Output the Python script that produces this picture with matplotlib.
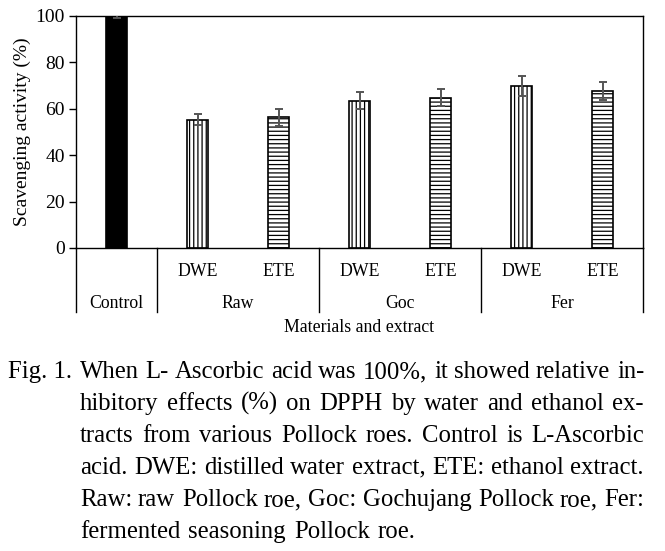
import numpy as np
import matplotlib
matplotlib.use("Agg")
import matplotlib.pyplot as plt
import matplotlib.transforms as mtransforms

plt.rcParams['font.family'] = ['Liberation Serif', 'DejaVu Serif']
plt.rcParams['hatch.linewidth'] = 0.9

# data
extracts = ['', 'DWE', 'ETE', 'DWE', 'ETE', 'DWE', 'ETE']
materials = ['Control', 'Raw', 'Goc', 'Fer']
valores = [100.0, 55.3, 56.3, 63.5, 64.8, 69.8, 67.5]
errores = [0.8, 2.3, 3.8, 3.6, 3.6, 4.3, 3.9]
hatches = [None, '||||', '----', '||||', '----', '||||', '----']
colores = ['black', 'white', 'white', 'white', 'white', 'white', 'white']

caption_tag = 'Fig. 1.'
caption_lines = [
    'When L- Ascorbic acid was 100%, it showed relative in-',
    'hibitory effects (%) on DPPH by water and ethanol ex-',
    'tracts from various Pollock roes. Control is L-Ascorbic',
    'acid. DWE: distilled water extract, ETE: ethanol extract.',
    'Raw: raw Pollock roe, Goc: Gochujang Pollock roe, Fer:',
    'fermented seasoning Pollock roe.',
]

W, H = 665, 551
fig = plt.figure(figsize=(W / 100, H / 100), dpi=100)
ax = fig.add_axes([76 / W, 1 - 248 / H, (643 - 76) / W, (248 - 16) / H])

x = np.arange(len(valores))
for i in range(len(valores)):
    ax.bar(x[i], valores[i], width=0.26, color=colores[i], edgecolor='black',
           linewidth=1.2, hatch=hatches[i], zorder=2)
ax.errorbar(x, valores, yerr=errores, fmt='none', ecolor='#555555',
            elinewidth=1.4, capsize=3, capthick=1.4, zorder=3)

ax.set_xlim(-0.5, 6.5)
ax.set_ylim(0, 100)
ax.set_yticks(np.arange(0, 101, 20))
ax.tick_params(axis='y', direction='out', length=5, width=1, labelsize=14, pad=3)
ax.set_xticks([])
for s in ax.spines.values():
    s.set_linewidth(1)
ax.set_ylabel('Scavenging activity (%)', fontsize=14, labelpad=3)

# category table below the axis
trans = mtransforms.blended_transform_factory(ax.transData, ax.transAxes)
sep_bottom = -(312 - 248) / 232
for xb in [-0.5, 0.5, 2.5, 4.5, 6.5]:
    ax.plot([xb, xb], [0, sep_bottom], color='black', lw=1,
            transform=trans, clip_on=False)
for i in range(1, len(extracts)):
    ax.text(x[i], -(271 - 248) / 232, extracts[i], transform=trans,
            ha='center', va='center', fontsize=12.8)
mat_pos = [0, 1.5, 3.5, 5.5]
for m, p in zip(materials, mat_pos):
    ax.text(p, -(303 - 248) / 232, m, transform=trans,
            ha='center', va='center', fontsize=12.8)
ax.text(3, -(327 - 248) / 232, 'Materials and extract', transform=trans,
        ha='center', va='center', fontsize=12.8)

# caption, justified word by word
cap_fs = 17.8
left, right = 80, 644
base0, step = 378, 32
fig.text(8 / W, 1 - base0 / H, caption_tag, fontsize=cap_fs, va='baseline', ha='left')
renderer = fig.canvas.get_renderer()
for k, line in enumerate(caption_lines):
    yb = 1 - (base0 + k * step) / H
    words = line.split(' ')
    arts = [fig.text(0, yb, w, fontsize=cap_fs, va='baseline', ha='left') for w in words]
    widths = [a.get_window_extent(renderer).width for a in arts]
    if k < len(caption_lines) - 1:
        gap = (right - left - sum(widths)) / (len(words) - 1)
    else:
        gap = 8
    xpos = left
    for a, wd in zip(arts, widths):
        a.set_x(round(xpos) / W)
        xpos += wd + gap

fig.savefig('out.png', dpi=100)
